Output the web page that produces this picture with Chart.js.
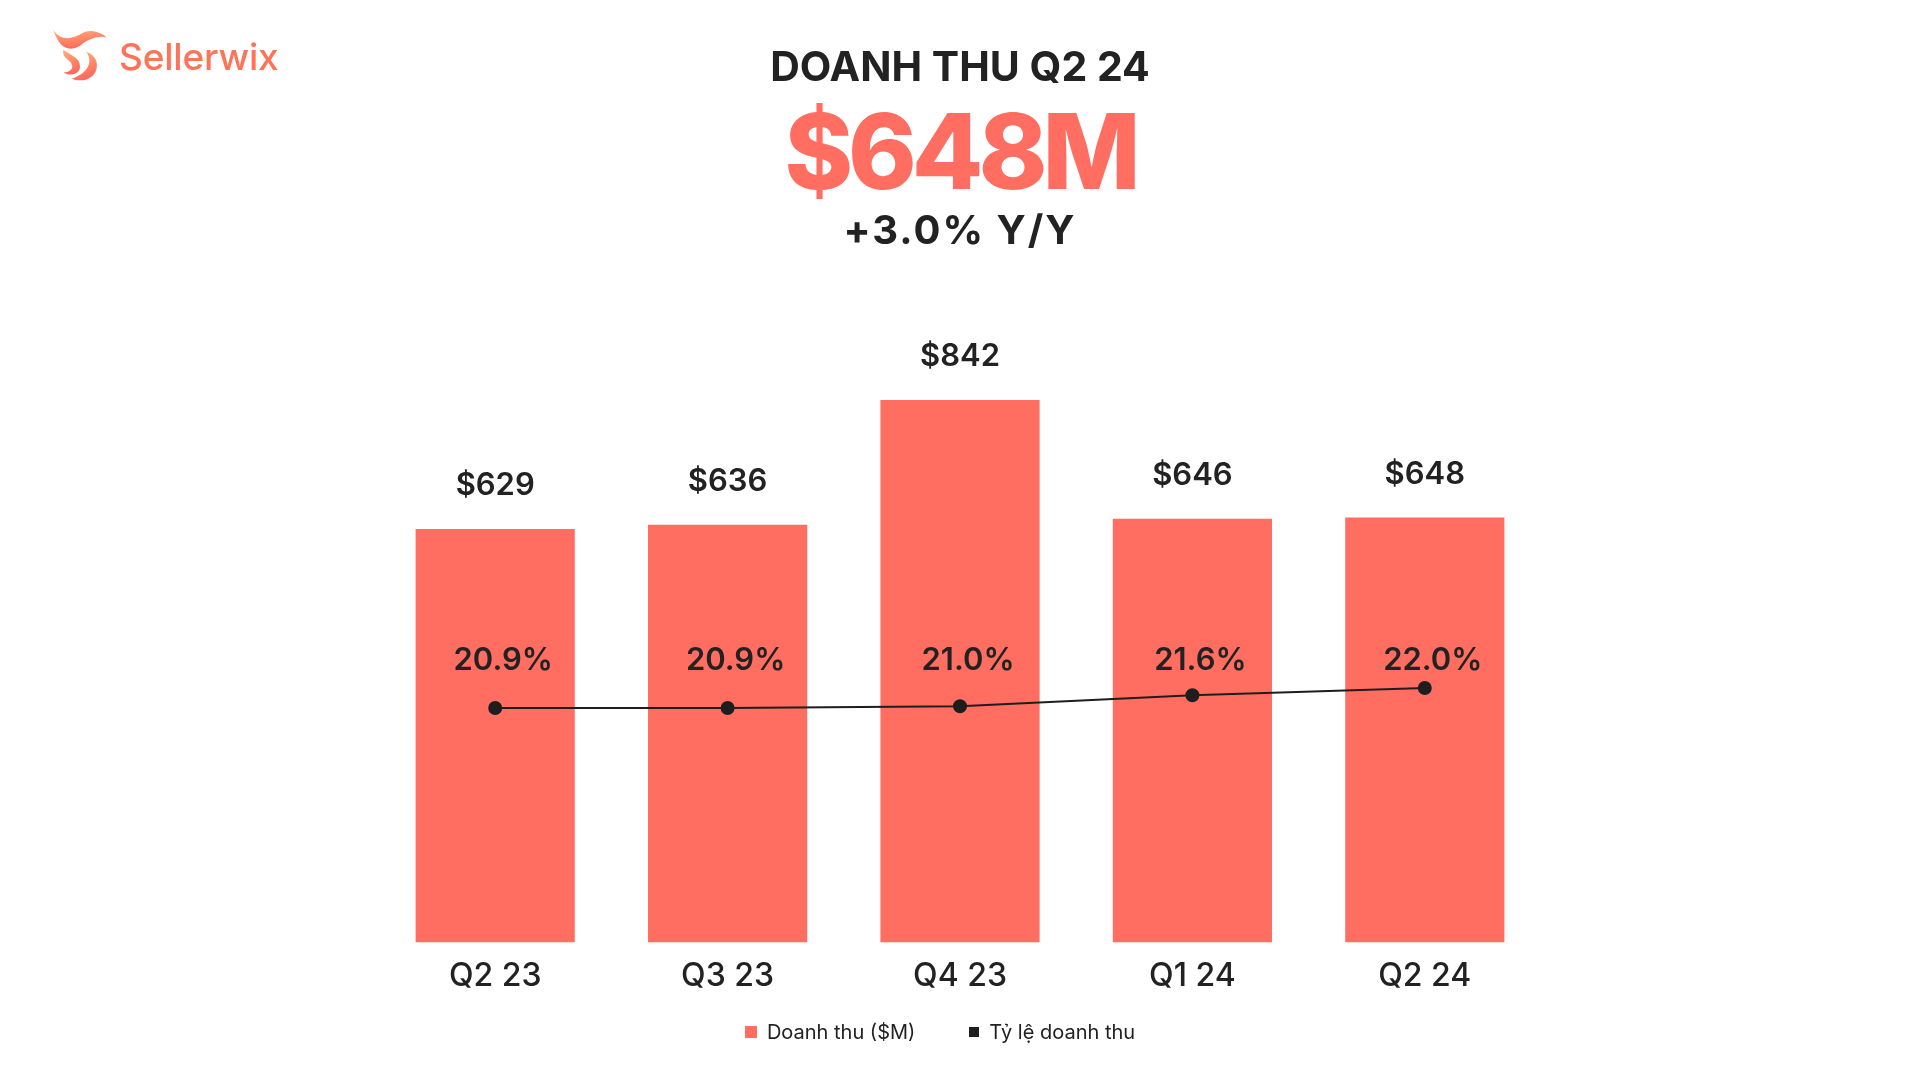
<!DOCTYPE html>
<html>
<head>
<meta charset="utf-8">
<script src="https://cdn.jsdelivr.net/npm/chart.js@4.4.0/dist/chart.umd.min.js"></script>
<style>
  html, body { margin: 0; padding: 0; background: #fff; }
  #wrap { position: relative; width: 1920px; height: 1080px; overflow: hidden; font-family: Inter, sans-serif; color: #222; }
  #chart { position: absolute; left: 0; top: 0; }
  .hd { position: absolute; left: 0; width: 1920px; text-align: center; line-height: 1; }
  #title { top: 46px; font-size: 41px; font-weight: 700; letter-spacing: 0px; }
  #big { top: 99px; font-size: 104px; font-weight: 800; color: #FF6E61; letter-spacing: -5px; }
  #yoy { top: 210px; font-size: 40px; font-weight: 700; letter-spacing: 2px; }
  #logo { position: absolute; left: 49px; top: 27px; display: flex; align-items: center; }
  #logo span { font-size: 37px; font-weight: 500; color: #FF7459; margin-left: 10px; letter-spacing: -0.2px; }
  #legend { position: absolute; left: -20px; width: 1920px; top: 1020px; display: flex; justify-content: center; gap: 54px; font-size: 20px; }
  #legend div { display: flex; align-items: center; }
  #legend i { display: inline-block; margin-right: 10px; }
</style>
</head>
<body>
<div id="wrap">
  <canvas id="chart" width="1920" height="1080"></canvas>
  <div id="logo">
    <svg width="60" height="58" viewBox="0 0 58 56">
      <defs>
        <linearGradient id="g" x1="0" y1="0" x2="0.3" y2="1">
          <stop offset="0" stop-color="#FFB07A"/>
          <stop offset="1" stop-color="#FF6A5C"/>
        </linearGradient>
      </defs>
      <path d="M4 2 C10 14 22 12 32 6 C40 2 48 4 56 10 C46 8 38 12 30 18 C20 24 10 22 4 2 Z" fill="url(#g)"/>
      <path d="M14 22 C22 28 30 30 30 38 C30 46 20 48 14 44 C20 44 24 40 22 36 C20 31 12 30 14 22 Z" fill="url(#g)"/>
      <path d="M22 50 C32 54 44 50 46 40 C48 32 42 26 36 24 C42 32 40 44 22 50 Z" fill="url(#g)"/>
    </svg>
    <span>Sellerwix</span>
  </div>
  <div class="hd" id="title">DOANH THU Q2 24</div>
  <div class="hd" id="big">$648M</div>
  <div class="hd" id="yoy">+3.0% Y/Y</div>
  <div id="legend"></div>
</div>
<script>
// Dữ liệu
const quarters = ["Q2 23", "Q3 23", "Q4 23", "Q1 24", "Q2 24"];
const revenue = [629, 636, 842, 646, 648];
const revenueRate = [20.9, 20.9, 21.0, 21.6, 22.0];

// Trục doanh thu không bắt đầu từ 0 (giống hình gốc)
const revenueAxisMin = -54.5;
const revenueAxisMax = 842;
const rateAxisMin = 8;
const rateAxisMax = 37.84;

const barColor = "#FF6E61";
const lineColor = "#1E1E1E";

// Nhãn giá trị trên cột và trên đường
const valueLabels = {
    id: "valueLabels",
    afterDatasetsDraw(chart) {
        const ctx = chart.ctx;
        ctx.save();
        ctx.fillStyle = "#222";
        ctx.textAlign = "center";
        ctx.textBaseline = "middle";
        ctx.font = "600 31px Inter";

        const barMeta = chart.getDatasetMeta(1);
        barMeta.data.forEach((bar, i) => {
            ctx.fillText("$" + revenue[i], bar.x, bar.y - 43);
        });

        const lineMeta = chart.getDatasetMeta(0);
        const rowY = chart.scales.y2.getPixelForValue(Math.max(...revenueRate)) - 27;
        lineMeta.data.forEach((pt, i) => {
            ctx.fillText(revenueRate[i].toFixed(1) + "%", pt.x + 8, rowY);
        });
        ctx.restore();
    }
};

function buildLegend(chart) {
    const box = document.getElementById("legend");
    box.innerHTML = "";
    chart.data.datasets.slice().reverse().forEach(ds => {
        const item = document.createElement("div");
        const mark = document.createElement("i");
        const size = ds.type === "bar" ? 12 : 10;
        mark.style.width = size + "px";
        mark.style.height = size + "px";
        mark.style.background = ds.type === "bar" ? ds.backgroundColor : ds.borderColor;
        item.appendChild(mark);
        item.appendChild(document.createTextNode(ds.label));
        box.appendChild(item);
    });
}

const ctx = document.getElementById("chart").getContext("2d");
const chart = new Chart(ctx, {
    data: {
        labels: quarters,
        datasets: [
            {
                type: "line",
                label: "Tỷ lệ doanh thu",
                data: revenueRate,
                yAxisID: "y2",
                borderColor: lineColor,
                backgroundColor: lineColor,
                borderWidth: 2,
                pointRadius: 6,
                pointBackgroundColor: lineColor,
                tension: 0,
                order: 0
            },
            {
                type: "bar",
                label: "Doanh thu ($M)",
                data: revenue,
                yAxisID: "y",
                base: revenueAxisMin,
                backgroundColor: barColor,
                barPercentage: 0.685,
                categoryPercentage: 1,
                order: 1
            }
        ]
    },
    options: {
        responsive: false,
        animation: false,
        layout: { padding: { left: 379, right: 379, top: 400, bottom: 69 } },
        plugins: {
            legend: { display: false },
            tooltip: { enabled: false }
        },
        scales: {
            x: {
                grid: { display: false, drawTicks: false },
                border: { display: false },
                ticks: { color: "#222", padding: 15, font: { family: "Inter", size: 32, weight: 500 } }
            },
            y: { display: false, min: revenueAxisMin, max: revenueAxisMax },
            y2: { display: false, min: rateAxisMin, max: rateAxisMax }
        }
    },
    plugins: [valueLabels]
});

buildLegend(chart);
</script>
</body>
</html>
